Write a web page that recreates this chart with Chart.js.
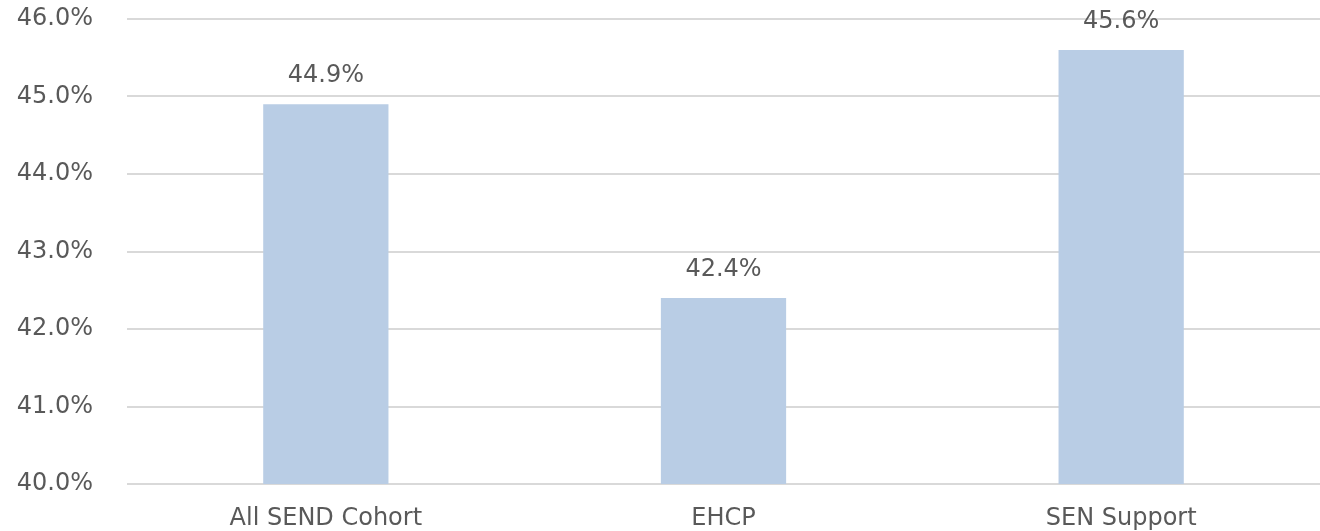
<!DOCTYPE html>
<html>
<head>
<meta charset="utf-8">
<script src="https://cdn.jsdelivr.net/npm/chart.js@4/dist/chart.umd.min.js"></script>
<style>
  html, body { margin: 0; padding: 0; background: #fff; }
  #wrap { width: 1320px; height: 531px; position: relative; }
</style>
</head>
<body>
<div id="wrap"><canvas id="myChart"></canvas></div>
<script>
// Data
const categories = ["All SEND Cohort", "EHCP", "SEN Support"];
const values = [44.9, 42.4, 45.6];
const yTicks = [40, 41, 42, 43, 44, 45, 46];

const textColor = "#595959";
const fontFamily = "'DejaVu Sans', sans-serif";
const fontSize = 24;

// Draw the value above each bar
const valueLabels = {
  id: "valueLabels",
  afterDatasetsDraw(chart) {
    const ctx = chart.ctx;
    const meta = chart.getDatasetMeta(0);
    ctx.save();
    ctx.fillStyle = textColor;
    ctx.font = fontSize + "px " + fontFamily;
    ctx.textAlign = "center";
    ctx.textBaseline = "alphabetic";
    meta.data.forEach((bar, i) => {
      ctx.fillText(values[i].toFixed(1) + "%", bar.x, bar.y - 22);
    });
    ctx.restore();
  },
};

new Chart(document.getElementById("myChart"), {
  type: "bar",
  data: {
    labels: categories,
    datasets: [
      {
        data: values,
        backgroundColor: "#b9cde5",
        borderWidth: 0,
        barPercentage: 0.315,
        categoryPercentage: 1,
      },
    ],
  },
  options: {
    responsive: true,
    maintainAspectRatio: false,
    animation: false,
    layout: { padding: { top: 19, left: 0, right: 0, bottom: 0 } },
    plugins: { legend: { display: false }, tooltip: { enabled: false } },
    scales: {
      y: {
        min: 40,
        max: 46,
        afterBuildTicks: (axis) => {
          axis.ticks = yTicks.map((v) => ({ value: v }));
        },
        afterFit: (axis) => {
          axis.width = 127;
        },
        border: { display: false },
        grid: {
          color: "#d9d9d9",
          lineWidth: 2,
          drawTicks: true,
          tickLength: 34,
          tickColor: "rgba(0,0,0,0)",
        },
        ticks: {
          callback: (value) => value.toFixed(1) + "%",
          color: textColor,
          font: { size: fontSize, family: fontFamily },
          padding: 0,
        },
      },
      x: {
        afterFit: (axis) => {
          axis.height = 47;
        },
        border: { display: false },
        grid: { display: false, drawTicks: false },
        ticks: {
          color: textColor,
          font: { size: fontSize, family: fontFamily },
          padding: 20,
          maxRotation: 0,
        },
      },
    },
  },
  plugins: [valueLabels],
});
</script>
</body>
</html>
